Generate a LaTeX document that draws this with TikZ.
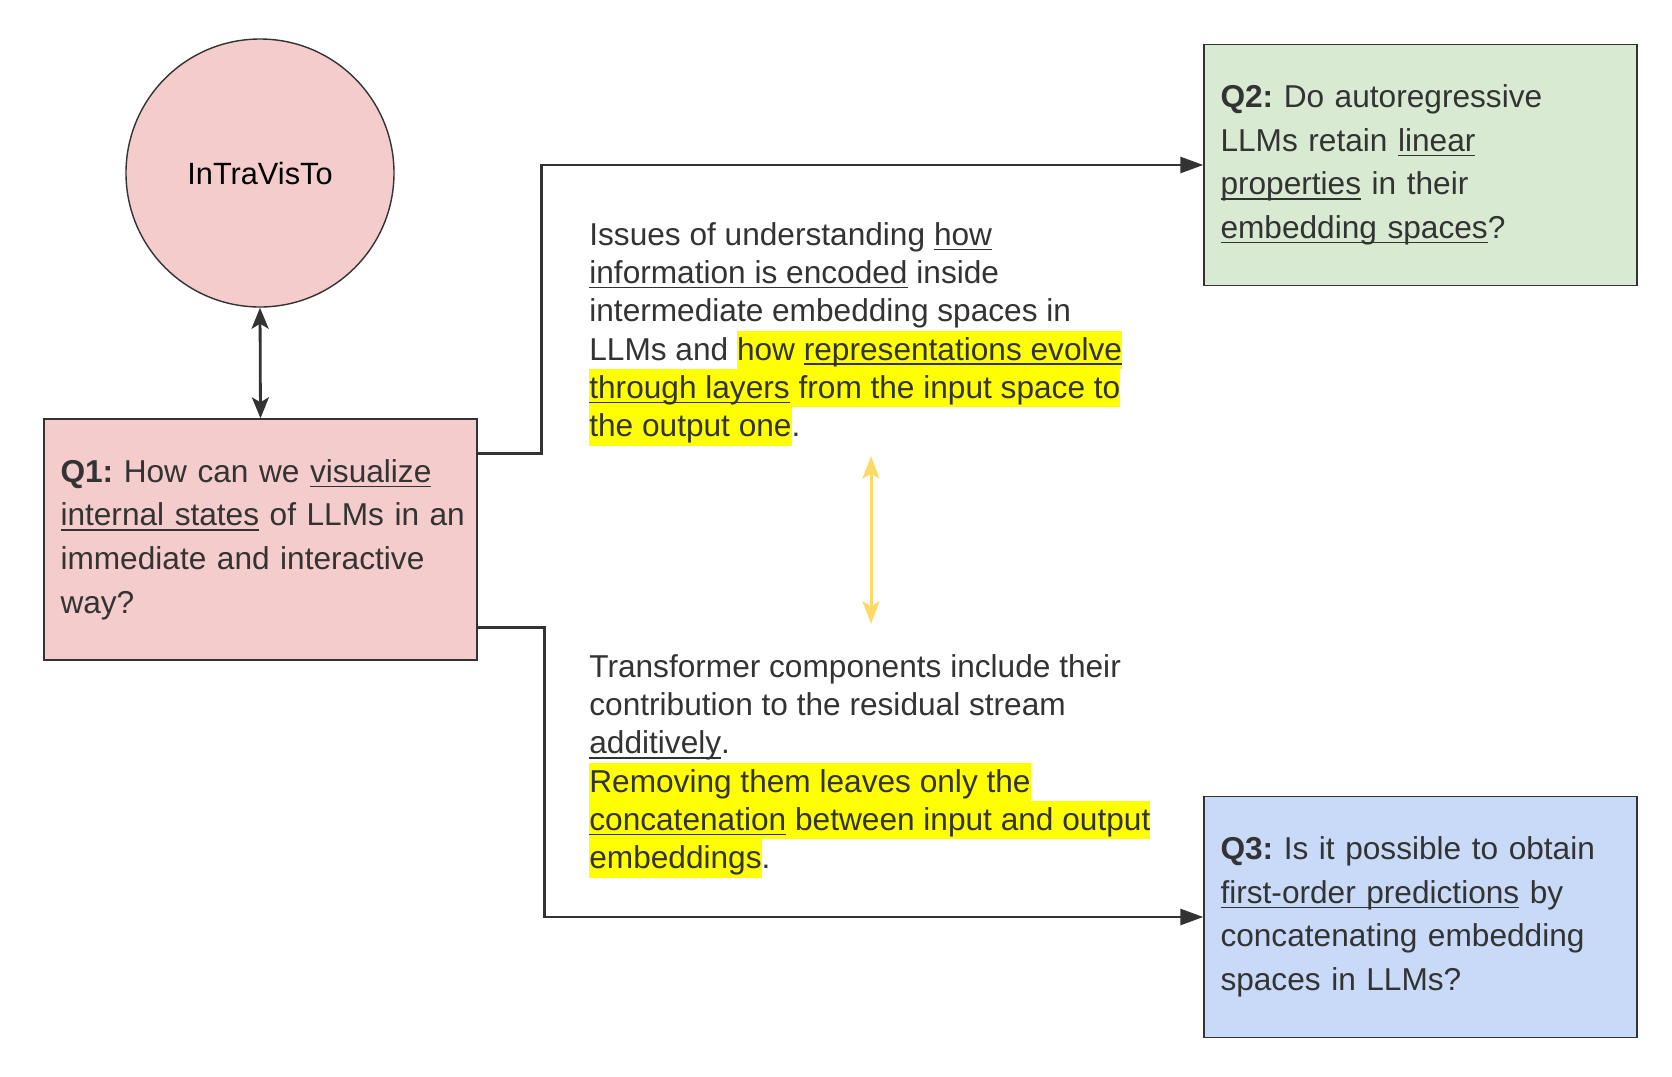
\documentclass[tikz,border=0pt]{standalone}
\usepackage{fontspec}
\setmainfont{Liberation Sans}
\usetikzlibrary{arrows.meta}
\definecolor{inkgray}{HTML}{333333}
\definecolor{roseq}{HTML}{F4CCCC}
\definecolor{sageq}{HTML}{D9EAD3}
\definecolor{skyq}{HTML}{C9DAF8}
\definecolor{hlyellow}{HTML}{FFFF00}
\definecolor{linkgold}{HTML}{FFD966}
\newsavebox{\ulbox}
\newcommand{\undl}[1]{\leavevmode\sbox{\ulbox}{#1}\rlap{\rule[-2.8pt]{\wd\ulbox}{0.9pt}}\usebox{\ulbox}}
\newcommand{\hlmark}[1]{\leavevmode{\setlength{\fboxsep}{0pt}\colorbox{hlyellow}{\rule[-0.18cm]{0pt}{0.765cm}#1}}}
\frenchspacing
\begin{document}
\begin{tikzpicture}[
    qbox/.style={draw=inkgray, line width=0.8pt, minimum width=8.66cm, minimum height=4.82cm,
      text width=8.0cm, inner xsep=0.33cm, align=left, text=inkgray,
      font=\fontsize{18}{24.8}\selectfont\frenchspacing},
    note/.style={anchor=west, align=left, inner sep=0pt, text=inkgray,
      font=\fontsize{18}{21.8}\selectfont},
    link/.style={draw=inkgray, line width=1.6pt, -{Triangle[length=0.46cm,width=0.32cm]}},
    both/.style={draw=inkgray, line width=1.6pt,
      {Stealth[length=0.42cm,width=0.34cm,inset=0.1cm]}-{Stealth[length=0.42cm,width=0.34cm,inset=0.1cm]}},
    swap/.style={draw=linkgold, line width=1.7pt,
      {Stealth[length=0.45cm,width=0.34cm,inset=0.1cm]}-{Stealth[length=0.45cm,width=0.34cm,inset=0.1cm]}}]
    \useasboundingbox (0,0) rectangle (33.44,-21.52);
    \node[circle, draw=inkgray, line width=0.8pt, fill=roseq, minimum size=5.36cm, inner sep=0pt,
      font=\fontsize{17.5}{21}\selectfont] (logo) at (5.2,-3.46) {InTraVisTo};
    \node[qbox, fill=roseq] (qone) at (5.21,-10.79) {\textbf{Q1:} How can we \undl{visualize}\\
      \mbox{\undl{internal states} of LLMs in an}\\ immediate and interactive\\ way?};
    \node[qbox, fill=sageq] (qtwo) at (28.41,-3.3) {\textbf{Q2:} Do autoregressive\\
      LLMs retain \undl{linear}\\ \undl{properties} in their\\ \undl{embedding spaces}?};
    \node[qbox, fill=skyq] (qthree) at (28.41,-18.34) {\textbf{Q3:} Is it possible to obtain\\
      \undl{first-order predictions} by\\ concatenating embedding\\ spaces in LLMs?};
    \node[note] (sone) at (11.78,-6.68) {Issues of understanding \undl{how}\\
      \undl{information is encoded} inside\\
      intermediate embedding spaces in\\
      LLMs and \hlmark{how \undl{representations evolve}}\\
      \hlmark{\undl{through layers} from the input space to}\\
      \hlmark{the output one}.};
    \node[note] (stwo) at (11.78,-15.32) {Transformer components include their\\
      contribution to the residual stream\\
      \undl{additively}.\\
      \hlmark{Removing them leaves only the}\\
      \hlmark{\undl{concatenation} between input and output}\\
      \hlmark{embeddings}.};
    \coordinate (axis) at (17.42,0);
    \draw[both] (logo.south) -- (qone.north);
    \draw[link] ([yshift=-0.7cm]qone.north east) -- ++(1.28,0) |- (qtwo.west);
    \draw[link] ([yshift=0.66cm]qone.south east) -- ++(1.34,0) |- (qthree.west);
    \draw[swap, shorten <=0.2cm, shorten >=0.6cm] (sone.south -| axis) -- (stwo.north -| axis);
\end{tikzpicture}
\end{document}
